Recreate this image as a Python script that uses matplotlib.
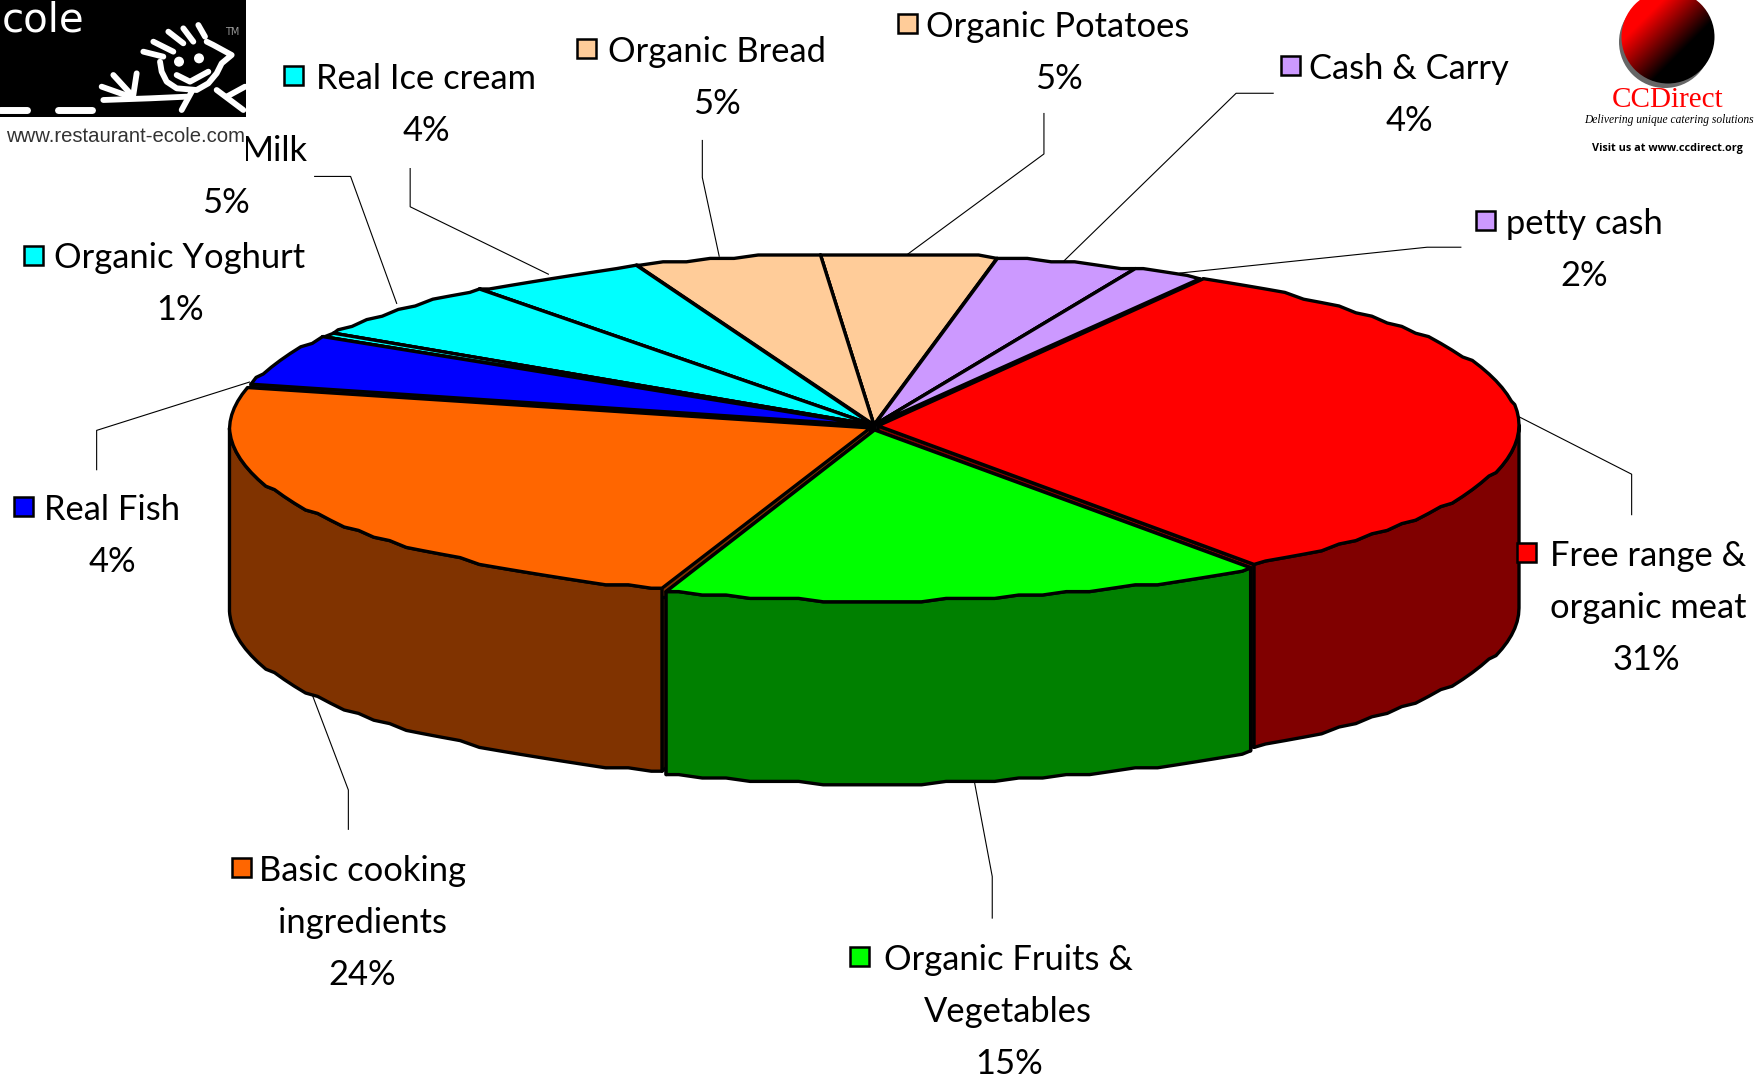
from matplotlib import pyplot as plt
from matplotlib.patches import Polygon, Rectangle, Circle
import numpy as np

# slices, clockwise from the back right edge of the red one
names = ["Free range & organic meat", "Organic Fruits & Vegetables", "Basic cooking ingredients",
         "Real Fish", "Organic Yoghurt", "Milk", "Real Ice cream", "Organic Bread",
         "Organic Potatoes", "Cash & Carry", "petty cash"]
shares = [31.55, 15.25, 23.62, 4.68, 0.5, 5.4, 4.5, 4.7, 4.4, 3.6, 1.8]
pct_labels = ["31%", "15%", "24%", "4%", "1%", "5%", "4%", "5%", "5%", "4%", "2%"]
top_colours = ["#FF0000", "#00FF00", "#FF6600", "#0000FF", "#00FFFF", "#00FFFF", "#00FFFF",
               "#FFCC99", "#FFCC99", "#CC99FF", "#CC99FF"]
side_colours = ["#800000", "#008000", "#803300", "#000080", "#008080", "#008080", "#008080",
                "#806633", "#806633", "#664C80", "#664C80"]
# slices of one colour family are pulled out together
groups = [0, 1, 2, 3, 4, 4, 4, 5, 5, 6, 6]
pull_out = [4, 4, 4, 1.2, 1.2, 1.2, 1.2, 1.2, 1.2, 1.2, 1.2]

# label layout, measured on the 1568 wide view
S = 1762 / 1568
label_lines = [["Free range &", "organic meat", "31%"], ["Organic Fruits &", "Vegetables", "15%"],
               ["Basic cooking", "ingredients", "24%"], ["Real Fish", "4%"], ["Organic Yoghurt", "1%"],
               ["Milk", "5%"], ["Real Ice cream", "4%"], ["Organic Bread", "5%"],
               ["Organic Potatoes", "5%"], ["Cash & Carry", "4%"], ["petty cash", "2%"]]
label_x = [1467, 897, 323, 100, 160, 245, 379, 638, 941, 1254, 1410]
pct_x = [1465, 898, 322, 100, 160, 201, 379, 638, 942, 1254, 1410]
label_y = [495, 854, 775, 454, 230, 134, 70, 46, 24, 61, 199]
key_x = [1358, 765, 215, 21, 30, None, 261, 522, 808, 1148, 1322]
leaders = [[(1352, 371), (1452, 422), (1452, 458)], [(867, 695), (883, 780), (883, 817)],
           [(277, 616), (310, 703), (310, 738)], [(222, 340), (86, 383), (86, 418)], None,
           [(353, 270), (312, 157), (280, 157)], [(488, 244), (365, 184), (365, 150)],
           [(640, 228), (625, 158), (625, 125)], [(808, 226), (929, 137), (929, 101)],
           [(947, 232), (1100, 83), (1133, 83)], [(1050, 243), (1270, 220), (1300, 220)]]

CX, CY, A, B, DEPTH = 874, 426, 641, 171, 183
START = 59.5
FONT = "Lato"


def ring(a1, a2, dx, dy, drop=0):
    # rim from a1 to a2 in degrees, on a fixed angle grid and snapped to a coarse
    # y grid so that wall and top share the same jagged edge like the source picture
    lo, hi = min(a1, a2), max(a1, a2)
    grid = np.arange(np.ceil(lo / 2.2), np.floor(hi / 2.2) + 1) * 2.2
    t = np.unique(np.concatenate([[lo, hi], grid]))
    if a1 > a2:
        t = t[::-1]
    t = np.radians(t)
    x = CX + dx + A * np.cos(t)
    y = CY + dy - B * np.sin(t)
    y = np.round(y / 3.4) * 3.4 + drop
    return np.column_stack([x, y])


def face(ax, pts, colour, z):
    ax.add_patch(Polygon(pts, closed=True, fc=colour, ec="black", lw=2.4, joinstyle="round", zorder=z))


fig = plt.figure(figsize=(17.62, 10.79), dpi=100)
ax = fig.add_axes([0, 0, 1, 1])
ax.set_xlim(0, 1762)
ax.set_ylim(1079, 0)
ax.axis("off")

edges = START - 3.6 * np.cumsum([0] + shares)
mids = (edges[:-1] + edges[1:]) / 2
order = np.argsort(-np.sin(np.radians(mids)), kind="stable")

z = 2
for i in order:
    a1, a2 = edges[i], edges[i + 1]
    members = [j for j in range(len(shares)) if groups[j] == groups[i]]
    m = np.radians((edges[members[0]] + edges[members[-1] + 1]) / 2)
    dx, dy = pull_out[i] * np.cos(m), -pull_out[i] * np.sin(m)
    c = (CX + dx, CY + dy)
    # cut faces
    for ang in (a1, a2):
        e = ring(ang, ang, dx, dy)[0]
        face(ax, [c, e, (e[0], e[1] + DEPTH), (c[0], c[1] + DEPTH)], side_colours[i], z)
        z += 1
    # outer wall, only the part facing the viewer
    for lo, hi in ((-180, 0), (-540, -360)):
        h, l = min(a1, hi), max(a2, lo)
        if h > l:
            upper = ring(h, l, dx, dy)
            lower = ring(l, h, dx, dy, DEPTH)
            face(ax, np.vstack([upper, lower]), side_colours[i], z)
            z += 1
    face(ax, np.vstack([[c], ring(a1, a2, dx, dy)]), top_colours[i], z)
    z += 1

# labels
for i in range(len(names)):
    lines = label_lines[i]
    for k, line in enumerate(lines):
        x = pct_x[i] if k == len(lines) - 1 else label_x[i]
        ax.text(x * S, (label_y[i] + k * 46.3) * S, line, fontsize=24.8, family=FONT,
                ha="center", va="center", color="black", zorder=100)
    if key_x[i] is not None:
        ax.add_patch(Rectangle((key_x[i] * S - 9.5, (label_y[i] - 3) * S - 9.5), 19, 19, fc=top_colours[i],
                               ec="black", lw=1.8, zorder=100))
    if leaders[i] is not None:
        xs, ys = zip(*leaders[i])
        ax.plot(np.array(xs) * S, np.array(ys) * S, color="black", lw=0.8, zorder=1)

# restaurant logo, top left
ax.add_patch(Rectangle((0, 0), 246, 117, fc="black", ec="none", zorder=200))
ax.add_patch(Rectangle((0, 117), 246, 45, fc="white", ec="none", zorder=199))
ax.text(2, 31, "cole", color="white", fontsize=29, family="DejaVu Sans", ha="left", va="baseline", zorder=201)
ax.text(245, 136, "www.restaurant-ecole.com", color="#333333", fontsize=14.6,
        family="Liberation Sans", ha="right", va="center", zorder=201)
ax.text(232, 32, "TM", color="#999999", fontsize=7, ha="center", va="center", zorder=201)
strokes = [[(430, 155), (490, 170)], [(460, 125), (520, 155)], [(505, 95), (550, 130)], [(550, 85), (580, 125)],
           [(595, 75), (615, 110)],
           [(480, 185), (485, 215), (500, 245), (530, 265), (590, 270), (625, 250), (650, 220), (665, 190),
            (695, 165), (640, 135), (620, 125)],
           [(530, 225), (570, 245), (625, 215)], [(575, 275), (545, 330)], [(310, 300), (450, 295), (560, 290)],
           [(305, 260), (390, 290)], [(340, 225), (395, 285)], [(410, 220), (400, 285)],
           [(650, 270), (730, 330)], [(680, 290), (735, 260)]]
for st in strokes:
    xs, ys = zip(*st)
    ax.plot(np.array(xs) / 3, np.array(ys) / 3, color="white", lw=4.2, solid_capstyle="round",
            solid_joinstyle="round", zorder=201)
for ex, ey in ((537, 185), (597, 175)):
    ax.add_patch(Circle((ex / 3, ey / 3), 5, fc="white", ec="none", zorder=201))
for xs in ((0, 80), (175, 275)):
    ax.plot(np.array(xs) / 3, [110, 110], color="white", lw=5, solid_capstyle="round", zorder=201)

# CCDirect logo, top right
ax.add_patch(Circle((1665, 42), 46, fc="#666666", ec="none", zorder=200))
gx, gy = np.meshgrid(np.linspace(0, 1, 120), np.linspace(0, 1, 120))
shade = np.clip((gx + gy - 0.55) / 0.75, 0, 1)
grad = np.dstack([1 - shade, np.zeros_like(shade), np.zeros_like(shade)])
img = ax.imshow(grad, extent=(1621, 1715, 84, -10), zorder=201, aspect="auto")
img.set_clip_path(Circle((1668, 37), 46.5, transform=ax.transData))
ax.set_xlim(0, 1762)
ax.set_ylim(1079, 0)
ax.text(1668, 100, "CCDirect", color="#FF0000", fontsize=21, family="Liberation Serif", ha="center", va="center", zorder=202)
ax.text(1669, 120, "Delivering unique catering solutions", color="black", fontsize=8.3, family="Liberation Serif",
        style="italic", ha="center", va="center", zorder=202)
ax.text(1667, 148, "Visit us at www.ccdirect.org", color="black", fontsize=7.8, family="Open Sans",
        weight="bold", ha="center", va="center", zorder=202)

plt.savefig("out.png", dpi=100)
